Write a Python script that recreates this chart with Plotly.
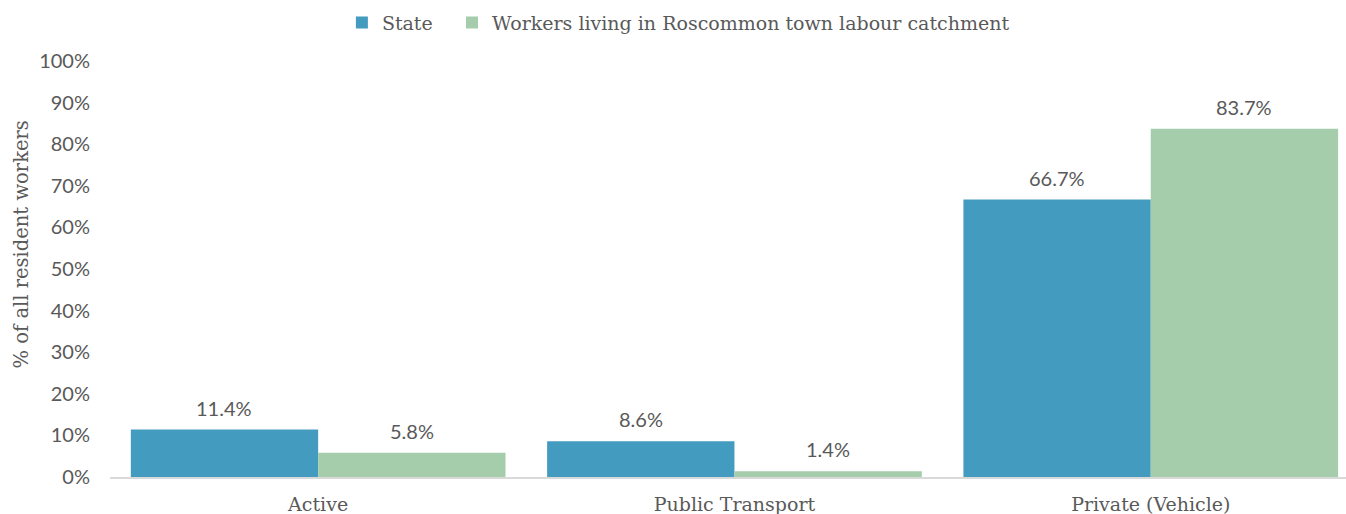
import plotly.graph_objects as go

categories = ["Active", "Public Transport", "Private (Vehicle)"]
state = [11.4, 8.6, 66.7]
roscommon = [5.8, 1.4, 83.7]
series_names = ["State", "Workers living in Roscommon town labour catchment"]
y_ticks = list(range(0, 101, 10))
y_ticklabels = [f"{v}%" for v in y_ticks]
y_title = "% of all resident workers"

gray = "#595959"
serif = "DejaVu Serif"
bargap = 0.1

fig = go.Figure()
fig.add_trace(go.Bar(x=categories, y=state, name=series_names[0], marker_color="#449BC0",
                     marker_line_width=0, legend="legend", showlegend=True))
fig.add_trace(go.Bar(x=categories, y=roscommon, name=series_names[1], marker_color="#A5CDAB",
                     marker_line_width=0, legend="legend2", showlegend=True))

# data labels above bars
offset = (1 - bargap) / 4
for i, (s, r) in enumerate(zip(state, roscommon)):
    for dx, v in ((-offset, s), (offset, r)):
        fig.add_annotation(x=i + dx, y=v, text=f"{v:.1f}%", showarrow=False,
                           yanchor="bottom", yshift=8,
                           font=dict(family="Lato", size=20, color=gray))

# y axis title
fig.add_annotation(xref="paper", yref="paper", x=-0.0715, y=0.558, text=y_title,
                   textangle=-90, showarrow=False, xanchor="center", yanchor="middle",
                   font=dict(family=serif, size=19.5, color=gray))

legend_common = dict(orientation="h", xanchor="left", xref="container", yref="container",
                     y=0.993, yanchor="top", font=dict(family=serif, size=19, color=gray),
                     itemwidth=30, bgcolor="rgba(0,0,0,0)")
fig.update_layout(
    width=1346, height=514,
    margin=dict(l=110, r=0, t=61, b=37, autoexpand=False),
    plot_bgcolor="white", paper_bgcolor="white",
    barmode="group", bargap=bargap, bargroupgap=0,
    showlegend=True,
    legend=dict(x=0.254, **legend_common),
    legend2=dict(x=0.3358, **legend_common),
    font=dict(family="Lato", color=gray),
)
fig.update_xaxes(
    range=[-0.5, 2.469], showline=True, linecolor="#d9d9d9", linewidth=1.5,
    ticks="", tickfont=dict(family=serif, size=19, color=gray),
    ticklabelstandoff=9, showgrid=False, automargin=False,
)
fig.update_yaxes(
    range=[0, 100], tickvals=y_ticks, ticktext=y_ticklabels, showgrid=False,
    zeroline=False, tickfont=dict(family="Lato", size=20, color=gray),
    ticklabelstandoff=19, ticks="", automargin=False,
)
fig.write_html("out.html")
